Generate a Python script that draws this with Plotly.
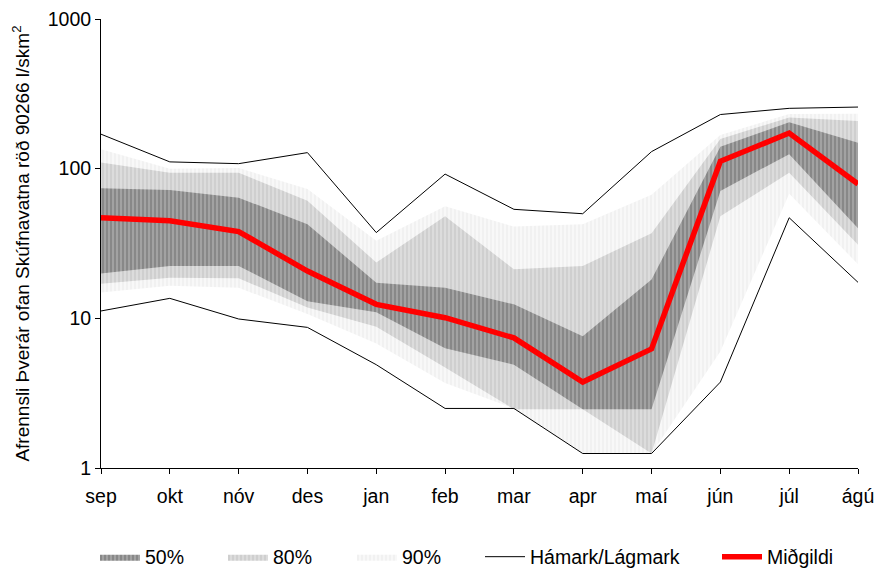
import plotly.graph_objects as go

months = ["sep", "okt", "nóv", "des", "jan", "feb", "mar", "apr", "maí", "jún", "júl", "ágú"]

hamark = [170, 111, 108, 128, 37.4, 92, 53.5, 50, 130, 230, 253, 258]
lagmark = [11.2, 13.6, 9.9, 8.7, 4.9, 2.5, 2.5, 1.25, 1.25, 3.75, 47, 17.4]
midgildi = [47, 44.8, 38, 20.7, 12.4, 10.1, 7.4, 3.75, 6.25, 112, 173, 79]

p50_upper = [74, 72, 64, 42.5, 17.3, 16, 12.4, 7.6, 18.2, 140, 204, 149]
p50_lower = [19.9, 22.4, 22.4, 13, 11, 6.3, 4.9, 2.47, 2.47, 71, 125, 40]
p80_upper = [110, 94, 94, 61, 23.6, 48, 21.3, 22.4, 37, 158, 220, 208]
p80_lower = [17, 18.7, 18.5, 11.8, 8.8, 4.7, 2.47, 2.47, 1.25, 48, 94, 31]
p90_upper = [135, 100, 101, 73, 33, 56, 41, 42.5, 67, 168, 232, 233]
p90_lower = [14.9, 16.5, 16, 10.7, 6.8, 3.7, 2.5, 1.25, 1.25, 6, 68, 23]

FONT = "Liberation Sans, Arial, sans-serif"
FS = 19.5

fig = go.Figure()

bands = [
    ("90%", p90_lower, p90_upper, "#f8f8f8", "#e9e9e9", "legend3"),
    ("80%", p80_lower, p80_upper, "#dcdcdc", "#c2c2c2", "legend2"),
    ("50%", p50_lower, p50_upper, "#a2a2a2", "#6e6e6e", "legend"),
]
for name, lo, hi, bg, fg, leg in bands:
    fig.add_trace(go.Scatter(x=months, y=lo, mode="lines", line=dict(width=0, color=bg),
                             showlegend=False, hoverinfo="skip"))
    fig.add_trace(go.Scatter(x=months, y=hi, mode="lines", line=dict(width=0, color=bg),
                             fill="tonexty", fillcolor=bg,
                             fillpattern=dict(shape="|", bgcolor=bg, fgcolor=fg, size=4, solidity=0.5),
                             name=name, legend=leg))

fig.add_trace(go.Scatter(x=months, y=hamark, mode="lines", line=dict(color="black", width=1),
                         name="Hámark/Lágmark", legend="legend4"))
fig.add_trace(go.Scatter(x=months, y=lagmark, mode="lines", line=dict(color="black", width=1),
                         showlegend=False))
fig.add_trace(go.Scatter(x=months, y=midgildi, mode="lines", line=dict(color="#ff0000", width=5.5),
                         name="Miðgildi", legend="legend5"))

L, R, T, B = 101, 17, 19, 103
W, H = 875, 571
pw = W - L - R
ph = H - T - B

def lx(px):
    return (px - L) / pw

ly = (H - B - 557) / ph

legcommon = dict(orientation="h", yanchor="middle", y=ly, xanchor="left",
                 font=dict(family=FONT, size=FS, color="black"),
                 bgcolor="rgba(0,0,0,0)", itemwidth=40, borderwidth=0)

fig.update_layout(
    width=W, height=H,
    margin=dict(l=L, r=R, t=T, b=B, autoexpand=False),
    paper_bgcolor="white", plot_bgcolor="white",
    font=dict(family=FONT, size=FS, color="black"),
    legend=dict(x=lx(95), **legcommon),
    legend2=dict(x=lx(223), **legcommon),
    legend3=dict(x=lx(352), **legcommon),
    legend4=dict(x=lx(480), **legcommon),
    legend5=dict(x=lx(717), **legcommon),
    xaxis=dict(type="category", range=[0, 11], showgrid=False, showline=True,
               linecolor="black", linewidth=1, ticks="outside", ticklen=5,
               tickcolor="black", tickfont=dict(family=FONT, size=FS), zeroline=False,
               ticklabelstandoff=6),
    yaxis=dict(type="log", range=[0, 3], showgrid=False, showline=True,
               linecolor="black", linewidth=1, ticks="outside", ticklen=5,
               tickcolor="black", tickvals=[1, 10, 100, 1000],
               ticktext=["1", "10", "100", "1000"],
               tickfont=dict(family=FONT, size=FS), zeroline=False,
               title=dict(text="Afrennsli Þverár ofan Skúfnavatna röð 90266 l/skm<sup>2</sup>",
                          font=dict(family=FONT, size=19), standoff=13)),
)

fig.write_html("out.html")
